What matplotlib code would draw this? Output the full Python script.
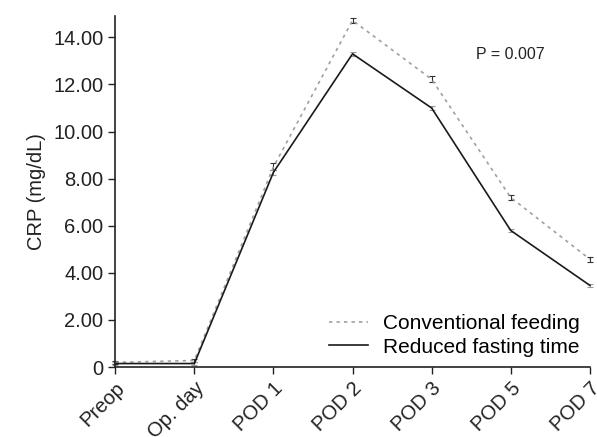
import matplotlib
matplotlib.use("Agg")
import matplotlib.pyplot as plt
import matplotlib.transforms as mtransforms
from matplotlib.lines import Line2D

plt.rcParams['font.family'] = ['Liberation Sans', 'DejaVu Sans']

categories = ["Preop", "Op. day", "POD 1", "POD 2", "POD 3", "POD 5", "POD 7"]
conventional = [0.20, 0.28, 8.50, 14.72, 12.22, 7.20, 4.58]
conventional_err = [0.06, 0.08, 0.15, 0.12, 0.12, 0.12, 0.10]
reduced = [0.15, 0.15, 8.27, 13.30, 11.00, 5.80, 3.47]
reduced_err = [0.05, 0.05, 0.10, 0.08, 0.08, 0.06, 0.06]
yticks = [0, 2, 4, 6, 8, 10, 12, 14]
yticklabels = ["0", "2.00", "4.00", "6.00", "8.00", "10.00", "12.00", "14.00"]

fig = plt.figure(figsize=(5.97, 4.37), dpi=100)
ax = fig.add_axes([0.193, 0.160, 0.795, 0.803])
x = list(range(len(categories)))

ax.errorbar(x, conventional, yerr=conventional_err, color="#a0a0a0", linestyle=(0, (2, 2.5)),
            linewidth=1.2, ecolor="#333333", elinewidth=0.8, capsize=2, capthick=0.8,
            label="Conventional feeding", clip_on=False)
ax.errorbar(x, reduced, yerr=reduced_err, color="#1a1a1a", linestyle="-",
            linewidth=1.2, ecolor="#999999", elinewidth=0.8, capsize=2, capthick=0.8,
            label="Reduced fasting time", clip_on=False)

ax.set_xlim(0, 6)
ax.set_ylim(0, 14.9)
ax.set_xticks(x)
ax.set_xticklabels(categories, rotation=45, ha="right", rotation_mode="anchor", fontsize=14.5)
offset = mtransforms.ScaledTranslation(9 / 100, -4 / 100, fig.dpi_scale_trans)
for lab in ax.get_xticklabels():
    lab.set_transform(lab.get_transform() + offset)
ax.set_yticks(yticks)
ax.set_yticklabels(yticklabels, fontsize=14.5)
ax.tick_params(direction="out", length=5, width=1, colors="#222222")
for s in ["top", "right"]:
    ax.spines[s].set_visible(False)
for s in ["left", "bottom"]:
    ax.spines[s].set_linewidth(1.2)
    ax.spines[s].set_color("#222222")
ax.set_ylabel("CRP (mg/dL)", fontsize=14.5, color="#222222", labelpad=5)

ax.text(0.76, 0.877, "P = 0.007", transform=ax.transAxes, fontsize=11.5, color="#222222")

labels = ["Conventional feeding", "Reduced fasting time"]
h = [Line2D([], [], color="#a0a0a0", linestyle=(0, (2, 2.5)), lw=1.2),
     Line2D([], [], color="#1a1a1a", lw=1.2)]
ax.legend(h, labels, loc="lower right", frameon=False, fontsize=15, handlelength=1.9,
          labelspacing=0.2, borderaxespad=0.2, handletextpad=0.7, borderpad=0.3)

fig.savefig("out.png", dpi=100)
